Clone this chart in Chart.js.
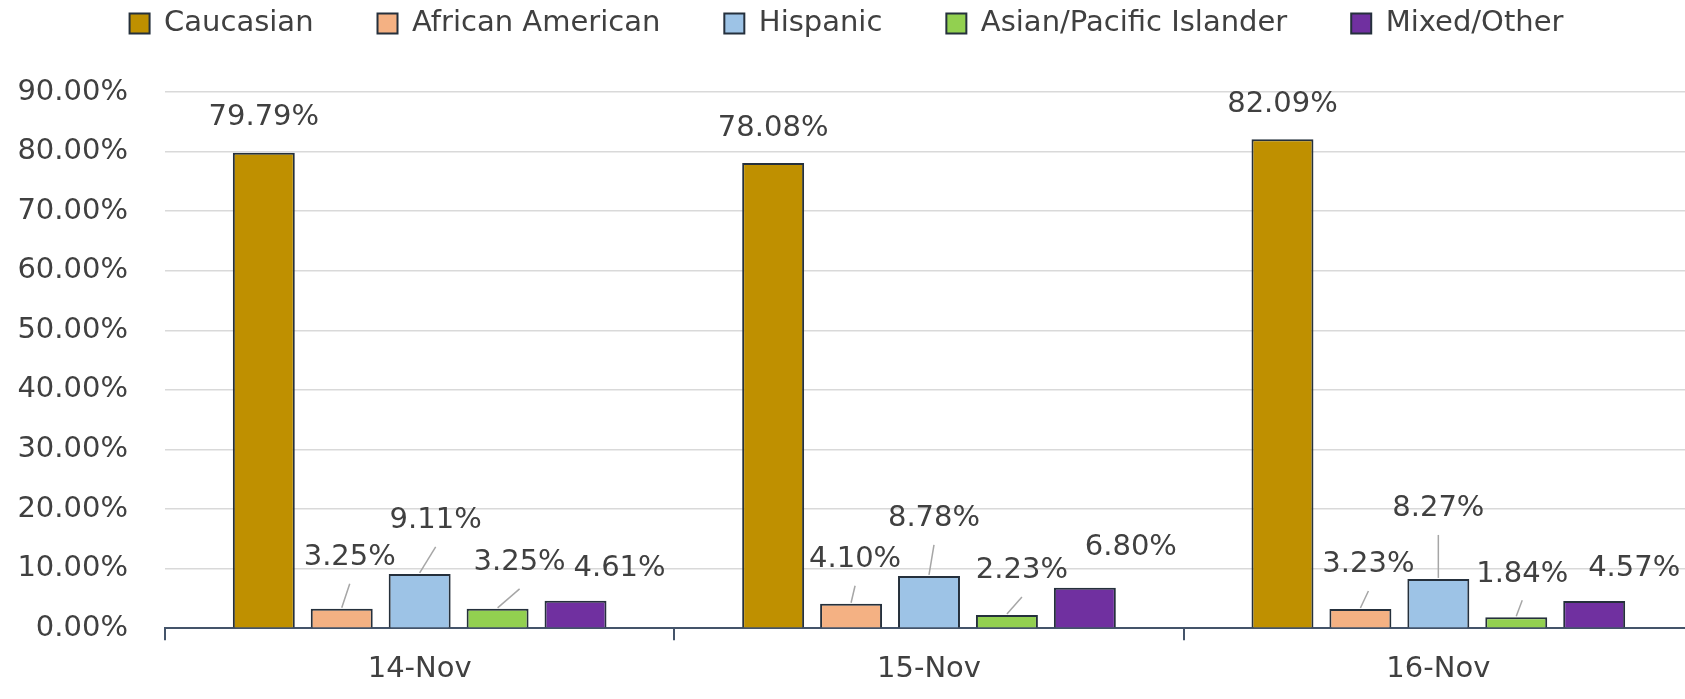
<!DOCTYPE html>
<html>
<head>
<meta charset="utf-8">
<script src="https://cdn.jsdelivr.net/npm/chart.js@4"></script>
<style>
  html, body { margin: 0; padding: 0; background: #fff; overflow: hidden; }
  #wrap { width: 1685px; height: 699px; overflow: hidden; }
</style>
</head>
<body>
<div id="wrap"><canvas id="graph" width="1700" height="699"></canvas></div>
<script>
let categories = ["14-Nov", "15-Nov", "16-Nov"]
let groups = ["Caucasian", "African American", "Hispanic", "Asian/Pacific Islander", "Mixed/Other"]

let caucasian = [79.79, 78.08, 82.09]
let africanAmerican = [3.25, 4.10, 3.23]
let hispanic = [9.11, 8.78, 8.27]
let asianPacific = [3.25, 2.23, 1.84]
let mixedOther = [4.61, 6.80, 4.57]

let yTicks = [0, 10, 20, 30, 40, 50, 60, 70, 80, 90]

// colours, per group
let fills = ["#BF9000", "#F4B183", "#9DC3E6", "#92D050", "#7030A0"]

// where Excel put each data label, px from the bar top centre
let labelNudge = [
  [[0, -35], [0, -35], [0, -35]],
  [[8, -51], [4, -44], [8, -44]],
  [[16, -53], [5, -57], [0, -70]],
  [[22, -46], [15, -44], [6, -43]],
  [[44, -32], [46, -40], [40, -33]]
]

const textColor = "#404040"
const fontFamily = "'DejaVu Sans', sans-serif"

Chart.defaults.font.family = fontFamily
Chart.defaults.color = textColor

// push plot area down below the legend, keep legend near the top
const legendSpace = {
  id: "legendSpace",
  beforeInit(chart) {
    const fit = chart.legend.fit
    chart.legend.fit = function() {
      fit.bind(chart.legend)()
      this.height = 92
    }
  },
  afterLayout(chart) {
    const lg = chart.legend
    const pad = lg.options.labels.padding
    lg.top = 9 - pad
    lg.bottom = lg.top + lg.height
  }
}

const barLabels = {
  id: "barLabels",
  afterDatasetsDraw(chart) {
    const ctx = chart.ctx
    ctx.save()
    ctx.font = "29px " + fontFamily
    ctx.textAlign = "center"
    ctx.textBaseline = "middle"
    chart.data.datasets.forEach((ds, i) => {
      const meta = chart.getDatasetMeta(i)
      meta.data.forEach((bar, j) => {
        const [dx, dy] = labelNudge[i][j]
        const lx = bar.x + dx
        const ly = bar.y + dy
        const lineEnd = ly + 26
        // leader line only when the label sits well clear of the bar
        if (bar.y - lineEnd > 16) {
          ctx.strokeStyle = "#a6a6a6"
          ctx.lineWidth = 1.5
          ctx.beginPath()
          ctx.moveTo(bar.x, bar.y - 1)
          ctx.lineTo(lx, lineEnd)
          ctx.stroke()
        }
        ctx.fillStyle = textColor
        ctx.fillText(ds.data[j].toFixed(2) + "%", lx, ly)
      })
    })
    ctx.restore()
  }
}

let seriesValues = [caucasian, africanAmerican, hispanic, asianPacific, mixedOther]

function createGraph() {
  new Chart(document.getElementById("graph"), {
    type: "bar",
    data: {
      labels: categories,
      datasets: groups.map((g, i) => ({
        label: g,
        data: seriesValues[i],
        backgroundColor: fills[i],
        borderColor: "#25303c",
        borderWidth: 2,
        categoryPercentage: 0.765,
        barPercentage: 0.795
      }))
    },
    options: {
      responsive: false,
      animation: false,
      layout: { padding: { left: 0, right: 7, top: 0, bottom: 0 } },
      plugins: {
        legend: {
          position: "top",
          labels: {
            boxWidth: 20,
            boxHeight: 20,
            padding: 64,
            color: textColor,
            font: { size: 29 }
          }
        },
        tooltip: { enabled: false }
      },
      scales: {
        x: {
          grid: {
            display: true,
            offset: true,
            drawOnChartArea: false,
            drawTicks: true,
            tickLength: 12,
            color: "#44546A",
            lineWidth: 2
          },
          border: { display: true, color: "#44546A", width: 2 },
          ticks: { color: textColor, font: { size: 29 }, padding: 12 }
        },
        y: {
          min: 0,
          max: 90,
          afterFit(scale) { scale.width = 165 },
          afterBuildTicks(scale) { scale.ticks = yTicks.map(v => ({ value: v })) },
          grid: { color: "#d9d9d9", lineWidth: 1.5, drawTicks: false },
          border: { display: false },
          ticks: {
            color: textColor,
            font: { size: 29 },
            padding: 37,
            callback: v => v.toFixed(2) + "%"
          }
        }
      }
    },
    plugins: [legendSpace, barLabels]
  })
}

createGraph()
</script>
</body>
</html>
